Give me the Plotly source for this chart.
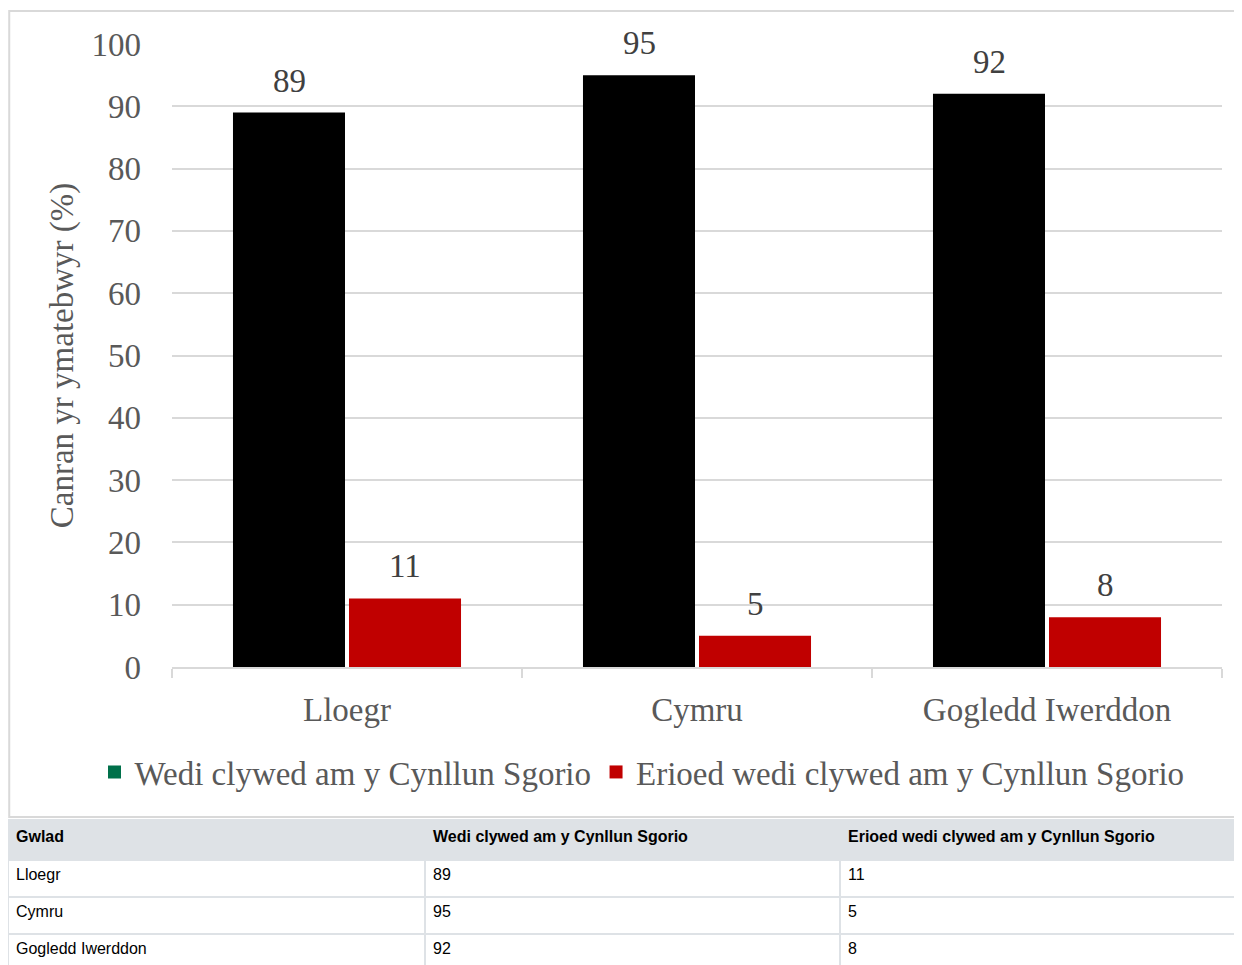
import plotly.graph_objects as go

countries = ['Lloegr', 'Cymru', 'Gogledd Iwerddon']
heard = [89, 95, 92]
never_heard = [11, 5, 8]
series_names = ['Wedi clywed am y Cynllun Sgorio', 'Erioed wedi clywed am y Cynllun Sgorio']
table_header = ['Gwlad', series_names[0], series_names[1]]

# the page body has an 8px margin, so the figure is drawn 8px in from the corner
OFF = 8
W, H = 1242 - OFF, 965 - OFF
SERIF = 'Liberation Serif, Times New Roman, serif'
SANS = 'Liberation Sans, Arial, sans-serif'
GREY = '#595959'
FS = 33


def px_x(p):
    return (p - OFF) / W


def px_y(p):
    return (965 - p) / H


fig = go.Figure()

fig.add_trace(go.Bar(x=countries, y=heard, name=series_names[0],
                     marker=dict(color='#000000', line=dict(width=0)),
                     showlegend=False))
fig.add_trace(go.Bar(x=countries, y=never_heard, name=series_names[1],
                     marker=dict(color='#c00000', line=dict(width=0)),
                     showlegend=False))

# legend entries (the swatch of the first series is green in the original)
for name, col in zip(series_names, ['#00704a', '#c00000']):
    fig.add_trace(go.Scatter(x=[None], y=[None], mode='markers', name=name,
                             marker=dict(symbol='square', size=13, color=col)))

# value labels above the bars
for vals, shift in [(heard, -58), (never_heard, 58)]:
    for c, v in zip(countries, vals):
        fig.add_annotation(x=c, y=v, xref='x', yref='y', text=str(v),
                           showarrow=False, xshift=shift, yanchor='bottom', yshift=12,
                           font=dict(family=SERIF, size=FS, color='#404040'))

fig.add_trace(go.Table(
    domain=dict(x=[0, 1], y=[0, px_y(820)]),
    columnwidth=[417, 415, 402],
    header=dict(values=['<b>%s</b>' % h for h in table_header],
                fill_color='#dee2e6', line=dict(color='#dee2e6', width=2),
                align='left', height=40,
                font=dict(family=SANS, size=16, color='#000000')),
    cells=dict(values=[countries, heard, never_heard],
               fill_color='#ffffff', line=dict(color='#dee2e6', width=2),
               align='left', height=37,
               font=dict(family=SANS, size=16, color='#000000')),
))

fig.update_layout(
    template='none',
    width=W, height=H,
    margin=dict(l=0, r=0, t=0, b=0, pad=0),
    paper_bgcolor='white', plot_bgcolor='white',
    barmode='group', bargap=0.337, bargroupgap=0.0345,
    font=dict(family=SERIF, size=FS, color=GREY),
    legend=dict(orientation='h', x=px_x(642), xanchor='center', y=px_y(772), yanchor='middle',
                font=dict(family=SERIF, size=FS, color=GREY), itemwidth=30,
                bgcolor='rgba(0,0,0,0)'),
    xaxis=dict(domain=[px_x(172), px_x(1222)], automargin=False,
               showline=True, linecolor='#d9d9d9', linewidth=2,
               ticks='outside', tickson='boundaries', ticklen=9, tickcolor='#d9d9d9', tickwidth=2,
               ticklabelstandoff=12, showgrid=False,
               tickfont=dict(family=SERIF, size=FS, color=GREY)),
    yaxis=dict(domain=[px_y(667), px_y(44)], range=[0, 100], dtick=10, automargin=False,
               showgrid=True, gridcolor='#d9d9d9', gridwidth=2, zeroline=False, showline=False,
               ticks='', ticklabelstandoff=30,
               tickfont=dict(family=SERIF, size=FS, color=GREY),
               title=dict(text='Canran yr ymatebwyr (%)', standoff=7,
                          font=dict(family=SERIF, size=FS, color=GREY))),
    shapes=[
        dict(type='rect', xref='paper', yref='paper', x0=0.001, x1=1.02, y0=px_y(817), y1=px_y(11),
             line=dict(color='#d9d9d9', width=2), fillcolor='rgba(0,0,0,0)', layer='below'),
    ],
)

fig.write_html('out.html')
